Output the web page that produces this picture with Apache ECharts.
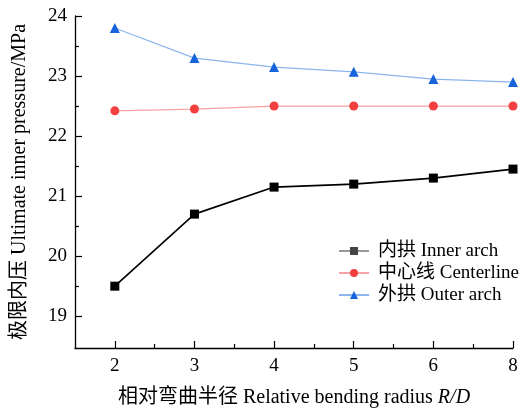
<!DOCTYPE html>
<html>
<head>
<meta charset="utf-8">
<script src="https://cdn.jsdelivr.net/npm/echarts@6/dist/echarts.min.js"></script>
<style>html,body{margin:0;padding:0;background:#fff}#c{width:524px;height:410px}</style>
</head>
<body>
<div id="c"></div>
<script>
// ---- data ----
var xCategories = ['2', '3', '4', '5', '6', '8'];
var innerArch = [19.5, 20.7, 21.15, 21.2, 21.3, 21.45];
var centerline = [22.42, 22.45, 22.5, 22.5, 22.5, 22.5];
var outerArch = [23.8, 23.3, 23.15, 23.07, 22.95, 22.9];
var yTickLabels = [19, 20, 21, 22, 23, 24];
var yMinorTicks = [19.5, 20.5, 21.5, 22.5, 23.5];
var xMinorTicks = [0.5, 1.5, 2.5, 3.5, 4.5];
var seriesNames = ['内拱 Inner arch', '中心线 Centerline', '外拱 Outer arch'];

var FONT = "'Liberation Serif', 'Noto Sans CJK SC', serif";
function pts(arr) { return arr.map(function (v, i) { return [i, v]; }); }
var xIdx = xCategories.map(function (_, i) { return i; });

var chart = echarts.init(document.getElementById('c'), null, { renderer: 'canvas' });
var axisLine = { show: true, onZero: false, lineStyle: { color: '#000', width: 1.3 } };
chart.setOption({
  animation: false,
  textStyle: { fontFamily: FONT },
  grid: { left: 75, right: 11, top: 16, bottom: 62, containLabel: false, outerBoundsMode: 'none' },
  xAxis: [{
    type: 'value', min: -0.5, max: 5,
    axisLine: axisLine,
    axisTick: { show: true, inside: true, length: 7, customValues: xIdx, lineStyle: { color: '#000', width: 1.2 } },
    axisLabel: { customValues: xIdx, formatter: function (v) { return xCategories[Math.round(v)]; }, color: '#000', fontSize: 19, fontFamily: FONT, margin: 9 },
    splitLine: { show: false },
    name: '相对弯曲半径 Relative bending radius {i|R/D}',
    nameLocation: 'middle', nameGap: 40,
    nameTextStyle: { color: '#000', fontSize: 20, fontFamily: FONT, rich: { i: { fontStyle: 'italic', fontSize: 20, fontFamily: FONT, color: '#000' } } }
  }, {
    type: 'value', min: -0.5, max: 5, position: 'bottom',
    axisLine: { show: false, onZero: false },
    axisTick: { show: true, inside: true, length: 4, customValues: xMinorTicks, lineStyle: { color: '#000', width: 1.2 } },
    axisLabel: { show: false }, splitLine: { show: false }
  }],
  yAxis: [{
    type: 'value', min: 18.47, max: 24,
    axisLine: axisLine,
    axisTick: { show: true, inside: true, length: 7, customValues: yTickLabels, lineStyle: { color: '#000', width: 1.2 } },
    axisLabel: { customValues: yTickLabels, color: '#000', fontSize: 19, fontFamily: FONT, margin: 8 },
    splitLine: { show: false },
    name: '极限内压 Ultimate inner pressure/MPa',
    nameLocation: 'middle', nameGap: 45,
    nameTextStyle: { color: '#000', fontSize: 20, fontFamily: FONT }
  }, {
    type: 'value', min: 18.47, max: 24, position: 'left',
    axisLine: { show: false, onZero: false },
    axisTick: { show: true, inside: true, length: 4, customValues: yMinorTicks, lineStyle: { color: '#000', width: 1.2 } },
    axisLabel: { show: false }, splitLine: { show: false }
  }],
  legend: {
    orient: 'vertical', left: 338, top: 241, padding: 0, itemWidth: 30, itemHeight: 10, itemGap: 2,
    textStyle: { color: '#000', fontSize: 19, lineHeight: 20, fontFamily: FONT, padding: [0, 0, 0, 4] },
    data: [
      { name: seriesNames[0], itemStyle: { color: '#444' }, lineStyle: { color: '#999' } },
      { name: seriesNames[1] },
      { name: seriesNames[2] }
    ]
  },
  series: [{
    name: seriesNames[0], type: 'line', data: pts(innerArch),
    symbol: 'rect', symbolSize: 9,
    itemStyle: { color: '#000' }, lineStyle: { color: '#000', width: 1.6 }
  }, {
    name: seriesNames[1], type: 'line', data: pts(centerline),
    symbol: 'circle', symbolSize: 9,
    itemStyle: { color: '#f23f3f' }, lineStyle: { color: '#f7a3a3', width: 1.3 }
  }, {
    name: seriesNames[2], type: 'line', data: pts(outerArch),
    symbol: 'triangle', symbolSize: 10,
    itemStyle: { color: '#1763dc' }, lineStyle: { color: '#8db5ef', width: 1.3 }
  }]
});
</script>
</body>
</html>
